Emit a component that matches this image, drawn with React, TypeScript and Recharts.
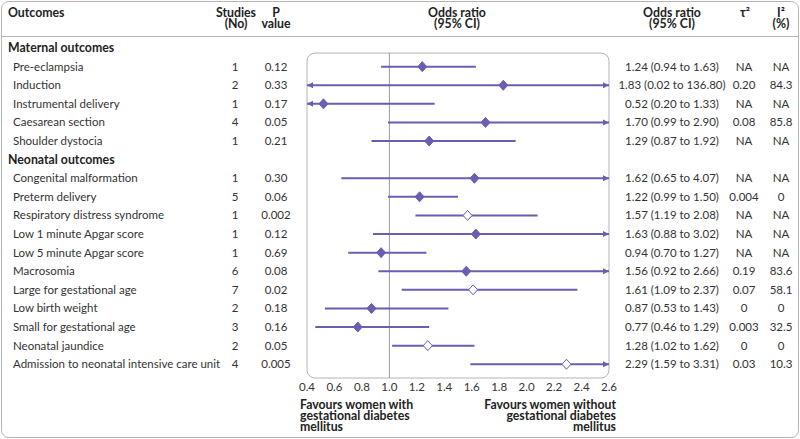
import React from "react";
import {
  ErrorBar,
  ReferenceArea,
  ReferenceLine,
  Scatter,
  ScatterChart,
  XAxis,
  YAxis,
} from "recharts";

// rows in display order; section headings have no numbers
const outcomes = [
  "Maternal outcomes",
  "Pre-eclampsia",
  "Induction",
  "Instrumental delivery",
  "Caesarean section",
  "Shoulder dystocia",
  "Neonatal outcomes",
  "Congenital malformation",
  "Preterm delivery",
  "Respiratory distress syndrome",
  "Low 1 minute Apgar score",
  "Low 5 minute Apgar score",
  "Macrosomia",
  "Large for gestational age",
  "Low birth weight",
  "Small for gestational age",
  "Neonatal jaundice",
  "Admission to neonatal intensive care unit",
];
const studies = [null, 1, 2, 1, 4, 1, null, 1, 5, 1, 1, 1, 6, 7, 2, 3, 2, 4];
const pValues = [null, "0.12", "0.33", "0.17", "0.05", "0.21", null, "0.30", "0.06", "0.002", "0.12", "0.69", "0.08", "0.02", "0.18", "0.16", "0.05", "0.005"];
const oddsRatio = [null, 1.24, 1.83, 0.52, 1.7, 1.29, null, 1.62, 1.22, 1.57, 1.63, 0.94, 1.56, 1.61, 0.87, 0.77, 1.28, 2.29];
const ciLow = [null, 0.94, 0.02, 0.2, 0.99, 0.87, null, 0.65, 0.99, 1.19, 0.88, 0.7, 0.92, 1.09, 0.53, 0.46, 1.02, 1.59];
const ciHigh = [null, 1.63, 136.8, 1.33, 2.9, 1.92, null, 4.07, 1.5, 2.08, 3.02, 1.27, 2.66, 2.37, 1.43, 1.29, 1.62, 3.31];
const tau2 = [null, "NA", "0.20", "NA", "0.08", "NA", null, "NA", "0.004", "NA", "NA", "NA", "0.19", "0.07", "0", "0.003", "0", "0.03"];
const i2 = [null, "NA", "84.3", "NA", "85.8", "NA", null, "NA", "0", "NA", "NA", "NA", "83.6", "58.1", "0", "32.5", "0", "10.3"];
// open diamonds mark the significant results
const significant = [false, false, false, false, false, false, false, false, false, true, false, false, false, true, false, false, true, true];
const xTicks = [0.4, 0.6, 0.8, 1.0, 1.2, 1.4, 1.6, 1.8, 2.0, 2.2, 2.4, 2.6];

const X_MIN = 0.4;
const X_MAX = 2.6;
const FONT = "Lato, 'Open Sans', sans-serif";
const PURPLE = "#6c5cb2";
const TEXT = "#333";
const BORDER = "#b4b4b4";
const BODY_SIZE = 11.5;
const HEAD_SIZE = 12.3;

const fmt = (v: number) => v.toFixed(2);

const points = outcomes
  .map((_, i) => i)
  .filter((i) => oddsRatio[i] != null)
  .map((i) => {
    const or = oddsRatio[i] as number;
    const lo = Math.max(ciLow[i] as number, X_MIN);
    const hi = Math.min(ciHigh[i] as number, X_MAX);
    return { x: or, y: i, err: [or - lo, hi - or], open: significant[i] };
  });

const arrows = outcomes
  .map((_, i) => i)
  .filter((i) => oddsRatio[i] != null)
  .flatMap((i) => {
    const out: { x: number; y: number; dir: number }[] = [];
    if ((ciLow[i] as number) < X_MIN) out.push({ x: X_MIN, y: i, dir: -1 });
    if ((ciHigh[i] as number) > X_MAX) out.push({ x: X_MAX, y: i, dir: 1 });
    return out;
  });

const Diamond = (props: any) => {
  const { cx, cy, payload } = props;
  const w = 4.5;
  const h = 5;
  return (
    <polygon
      points={`${cx},${cy - h} ${cx + w},${cy} ${cx},${cy + h} ${cx - w},${cy}`}
      fill={payload.open ? "#fff" : PURPLE}
      stroke={PURPLE}
      strokeWidth={1}
    />
  );
};

const Arrow = (props: any) => {
  const { cx, cy, payload } = props;
  const d = payload.dir;
  return (
    <polygon
      points={`${cx},${cy} ${cx - d * 6},${cy - 3} ${cx - d * 6},${cy + 3}`}
      fill={PURPLE}
    />
  );
};

const RowTick = (props: any) => {
  const { y, payload } = props;
  const i = payload.value as number;
  const txt = { fontFamily: FONT, fontSize: BODY_SIZE, fill: TEXT, dy: "0.35em" };
  if (oddsRatio[i] == null) {
    return (
      <text x={8} y={y} {...txt} fontSize={HEAD_SIZE} fontWeight={700} fill="#222">
        {outcomes[i]}
      </text>
    );
  }
  return (
    <g>
      <text x={13} y={y} {...txt}>{outcomes[i]}</text>
      <text x={235} y={y} {...txt} textAnchor="middle">{studies[i]}</text>
      <text x={276} y={y} {...txt} textAnchor="middle">{pValues[i]}</text>
      <text x={672} y={y} {...txt} textAnchor="middle">
        {`${fmt(oddsRatio[i] as number)} (${fmt(ciLow[i] as number)} to ${fmt(ciHigh[i] as number)})`}
      </text>
      <text x={744} y={y} {...txt} textAnchor="middle">{tau2[i]}</text>
      <text x={781} y={y} {...txt} textAnchor="middle">{i2[i]}</text>
    </g>
  );
};

const Head = ({ x, y, lines, anchor = "middle" }: { x: number; y: number; lines: string[]; anchor?: string }) => (
  <g>
    {lines.map((l, k) => (
      <text
        key={k}
        x={x}
        y={y + k * 11}
        fontFamily={FONT}
        fontSize={HEAD_SIZE}
        fontWeight={700}
        fill="#222"
        textAnchor={anchor as any}
      >
        {l}
      </text>
    ))}
  </g>
);

export default function App() {
  const rowIdx = outcomes.map((_, i) => i);
  return (
    <div style={{ position: "absolute", left: 0, top: 0, width: 800, height: 439, background: "#fff" }}>
      <ScatterChart width={800} height={439} margin={{ top: 38, right: 191, bottom: 31, left: 0 }}>
        <XAxis
          type="number"
          dataKey="x"
          domain={[X_MIN, X_MAX]}
          ticks={xTicks}
          allowDataOverflow
          axisLine={false}
          tickLine={false}
          tickSize={0}
          tickMargin={5}
          tickFormatter={(v: number) => v.toFixed(1)}
          tick={{ fontFamily: FONT, fontSize: BODY_SIZE, fill: TEXT }}
        />
        <YAxis
          type="number"
          dataKey="y"
          domain={[-0.54, 17.74]}
          reversed
          allowDataOverflow
          ticks={rowIdx}
          interval={0}
          width={307}
          axisLine={false}
          tickLine={false}
          tick={<RowTick />}
        />
        <ReferenceArea x1={X_MIN} x2={X_MAX} y1={0.27} y2={17.74} fill="none" stroke={BORDER} strokeWidth={1} radius={8} />
        <ReferenceLine segment={[{ x: 1, y: 0.27 }, { x: 1, y: 17.74 }]} stroke="#9a9a9a" strokeWidth={1} />
        <Scatter data={points} shape={<Diamond />} isAnimationActive={false}>
          <ErrorBar dataKey="err" direction="x" width={0} stroke={PURPLE} strokeWidth={2} isAnimationActive={false} />
        </Scatter>
        <Scatter data={arrows} shape={<Arrow />} isAnimationActive={false} />
      </ScatterChart>
      <svg width={800} height={439} style={{ position: "absolute", left: 0, top: 0, pointerEvents: "none" }}>
        <rect x={1.5} y={1.5} width={797} height={436} rx={7} fill="none" stroke={BORDER} />
        <line x1={1.5} x2={798.5} y1={36.5} y2={36.5} stroke={BORDER} />
        <Head x={8} y={17} lines={["Outcomes"]} anchor="start" />
        <Head x={236} y={17} lines={["Studies", "(No)"]} />
        <Head x={276} y={17} lines={["P", "value"]} />
        <Head x={457} y={17} lines={["Odds ratio", "(95% CI)"]} />
        <Head x={672} y={17} lines={["Odds ratio", "(95% CI)"]} />
        <Head x={745} y={17} lines={["τ²"]} />
        <Head x={781} y={17} lines={["I²", "(%)"]} />
        <Head x={300} y={409} lines={["Favours women with", "gestational diabetes", "mellitus"]} anchor="start" />
        <Head x={616} y={409} lines={["Favours women without", "gestational diabetes", "mellitus"]} anchor="end" />
      </svg>
    </div>
  );
}
